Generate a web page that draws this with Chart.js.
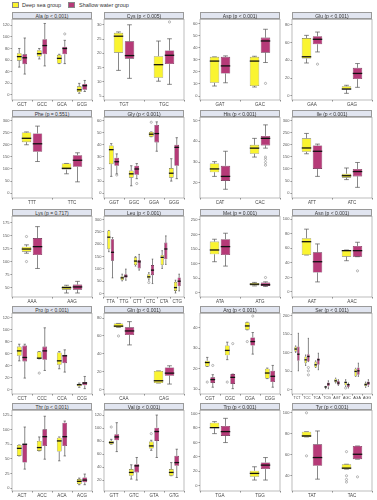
<!DOCTYPE html>
<html>
<head>
<meta charset="utf-8">
<script src="https://cdn.jsdelivr.net/npm/chart.js@4.4.1/dist/chart.umd.min.js"></script>
<style>
  body { margin: 0; background: #fff; width: 377px; height: 500px; position: relative; overflow: hidden; font-family: "Liberation Sans", Arial, sans-serif; }
  .strip { position: absolute; height: 7px; width: 80px; box-sizing: border-box; background: #e1e5f0; border: 0.6px solid #9a9a9a; font-size: 5px; line-height: 6px; text-align: center; color: #333; z-index: 2; white-space: nowrap; }
  .legend { position: absolute; top: 2px; font-size: 5.5px; line-height: 6px; color: #333; }
  .sw { position: absolute; top: 2px; width: 7px; height: 6px; box-sizing: border-box; border: 0.6px solid #888; }
  canvas { position: absolute; }
</style>
</head>
<body>
<div class="sw" style="left:12px;background:#faf430"></div>
<div class="legend" style="left:22px">Deep sea group</div>
<div class="sw" style="left:68px;background:#b63a78"></div>
<div class="legend" style="left:79px">Shallow water group</div>
<script>
// stats are [min, q1, median, q3, max]
const panelTitles = ["Ala (p < 0.001)", "Cys (p < 0.005)", "Asp (p < 0.001)", "Glu (p < 0.001)",
  "Phe (p = 0.551)", "Gly (p < 0.001)", "His (p < 0.001)", "Ile (p < 0.001)",
  "Lys (p = 0.717)", "Leu (p < 0.001)", "Met (p = 0.001)", "Asn (p < 0.001)",
  "Pro (p < 0.001)", "Gln (p < 0.001)", "Arg (p < 0.001)", "Ser (p < 0.001)",
  "Thr (p < 0.001)", "Val (p < 0.001)", "Trp (p < 0.001)", "Tyr (p < 0.001)"];

const alaCodons = ["GCT", "GCC", "GCA", "GCG"];
const alaDeep = [[48, 59, 66, 72, 80], [62, 66, 71, 77, 80], [54, 54, 63, 69, 70], [3, 5, 9, 15, 20]];
const alaShallow = [[36, 53, 64, 70, 98], [50, 70, 85, 96, 123], [54, 70, 80, 83, 94], [6, 9, 16, 19, 25]];
const alaDeepOut = [[], [], [], []];
const alaShallowOut = [[], [], [105], []];
const alaTicks = [0, 20, 40, 60, 80, 100, 120];
const alaRange = [-8.6, 130];

const cysCodons = ["TGT", "TGC"];
const cysDeep = [[14, 20.2, 26, 27.2, 27.5], [10.2, 11.4, 16, 19, 24.3]];
const cysShallow = [[11.2, 18.1, 19.2, 24.2, 30], [9.1, 16.2, 19.3, 21, 25.1]];
const cysDeepOut = [[], []];
const cysShallowOut = [[], [31]];
const cysTicks = [5, 10, 15, 20, 25, 30];
const cysRange = [3.6, 31.9];

const aspCodons = ["GAT", "GAC"];
const aspDeep = [[8.3, 11, 29, 32.5, 32.5], [7.5, 8.3, 29, 32.5, 33]];
const aspShallow = [[11, 18.7, 25, 32.5, 33.3], [27.8, 36, 45.7, 48.5, 55.4]];
const aspDeepOut = [[], []];
const aspShallowOut = [[], [10.5]];
const aspTicks = [0, 10, 20, 30, 40, 50, 60];
const aspRange = [-3.3, 63.6];

const gluCodons = ["GAA", "GAG"];
const gluDeep = [[37, 42, 44, 65, 68], [3, 7.4, 7.8, 11, 12]];
const gluShallow = [[49.4, 58, 63.6, 67, 71.7], [9.7, 19, 25.3, 31.6, 36.4]];
const gluDeepOut = [[], []];
const gluShallowOut = [[35.7], []];
const gluTicks = [0, 20, 40, 60, 80];
const gluRange = [-4.5, 85.9];

const pheCodons = ["TTT", "TTC"];
const pheDeep = [[200, 210.7, 226.7, 250.7, 253], [80, 97.3, 102.7, 122.7, 122.7]];
const pheShallow = [[130.7, 170.7, 204, 246.7, 277], [46.7, 109, 136, 157, 166.7]];
const pheDeepOut = [[], []];
const pheShallowOut = [[], []];
const pheTicks = [0, 50, 100, 150, 200, 250, 300];
const pheRange = [-20, 313];

const glyCodons = ["GGT", "GGC", "GGA", "GGG"];
const glyDeep = [[13.9, 24, 36, 39.5, 41], [6.1, 12.8, 16, 18.7, 22.7], [46.7, 46.7, 48.8, 50.7, 50.7], [10, 12.8, 16.5, 20.8, 28.5]];
const glyShallow = [[16, 22.7, 26, 29.3, 32.5], [12, 15.2, 20, 22.7, 24.5], [34.7, 42, 49.3, 56.5, 59], [12, 22.7, 37.9, 40, 45.9]];
const glyDeepOut = [[], [], [58.7], []];
const glyShallowOut = [[15], [8], [], []];
const glyTicks = [0, 10, 20, 30, 40, 50, 60];
const glyRange = [-4, 62.7];

const hisCodons = ["CAT", "CAC"];
const hisDeep = [[23.1, 25.1, 26.7, 29.3, 30.2], [32.4, 34, 36.7, 38.3, 41.4]];
const hisShallow = [[16.9, 20.9, 23.1, 28.2, 35.2], [36.7, 38, 41.4, 42.6, 47.9]];
const hisDeepOut = [[], []];
const hisShallowOut = [[], [32.4, 31.3, 29.8, 28.5]];
const hisTicks = [20, 30, 40, 50];
const hisRange = [12.7, 51.5];

const ileCodons = ["ATT", "ATC"];
const ileDeep = [[162.7, 170.7, 186.7, 226.7, 246.7], [56, 64, 72, 80, 104]];
const ileShallow = [[69.3, 100, 173, 197, 202.7], [24, 69.3, 89.3, 100, 126.7]];
const ileDeepOut = [[], []];
const ileShallowOut = [[], []];
const ileTicks = [0, 50, 100, 150, 200, 250, 300];
const ileRange = [-20, 313];

const lysCodons = ["AAA", "AAG"];
const lysDeep = [[116, 119, 124, 128.6, 132], [39.7, 46, 50, 52.6, 54.5]];
const lysShallow = [[86.7, 112.5, 128.6, 145, 167], [39.7, 46, 51.3, 55.8, 62]];
const lysDeepOut = [[148, 100], []];
const lysShallowOut = [[], []];
const lysTicks = [50, 75, 100, 125, 150, 175];
const lysRange = [32, 186.6];

const leuCodons = ["TTA", "TTG", "CTT", "CTC", "CTA", "CTG"];
const leuDeep = [[170, 180, 228.8, 256, 256], [51.8, 54.5, 64, 70.8, 79], [111.7, 115.8, 132, 147, 150], [55, 61.3, 68, 79, 85], [102, 115.8, 147, 156.6, 174], [2.7, 11, 24.5, 47.7, 54.5]];
const leuShallow = [[64, 133.5, 167.5, 220.6, 227.5], [54.5, 64, 70.8, 79, 99.4], [95.3, 102, 129, 136, 159], [40.9, 75, 95.3, 115.8, 140], [118.5, 139, 181, 207, 234], [11, 30, 50.4, 65.4, 79]];
const leuDeepOut = [[], [], [], [45], [], []];
const leuShallowOut = [[], [], [], [], [], []];
const leuTicks = [0, 50, 100, 150, 200, 250, 300];
const leuRange = [-13.6, 313];

const metCodons = ["ATA", "ATG"];
const metDeep = [[106.7, 132, 146.8, 175.5, 183.5], [24, 25.2, 29.8, 34.4, 36]];
const metShallow = [[91.8, 129.6, 158.3, 183.5, 204], [22, 24, 28, 35.6, 38]];
const metDeepOut = [[], []];
const metShallowOut = [[], [52.8]];
const metTicks = [0, 50, 100, 150, 200, 250];
const metRange = [-13.8, 261.5];

const asnCodons = ["AAT", "AAC"];
const asnDeep = [[50.7, 50.7, 69, 73.7, 86.2], [42.9, 48.4, 56.7, 57.6, 57.6]];
const asnShallow = [[13.8, 26.7, 41.5, 54.4, 65.9], [48.4, 48.4, 56.7, 63.1, 68.2]];
const asnDeepOut = [[], []];
const asnShallowOut = [[], [29]];
const asnTicks = [0, 20, 40, 60, 80, 100];
const asnRange = [-6.9, 103.7];

const proCodons = ["CCT", "CCC", "CCA", "CCG"];
const proDeep = [[48, 56.4, 64.6, 71.8, 75.7], [51.4, 51.4, 52.5, 63.5, 63.5], [34.8, 41.4, 48, 61.9, 63.5], [4, 5.5, 8.3, 10, 11]];
const proShallow = [[19.3, 47, 53.6, 73.5, 75.7], [32, 49.7, 64.6, 71.8, 103], [29.3, 44.2, 56.4, 58, 66.3], [1.7, 7.2, 11, 12.7, 22]];
const proDeepOut = [[], [27.6], [], []];
const proShallowOut = [[], [], [], []];
const proTicks = [0, 20, 40, 60, 80, 100, 120];
const proRange = [-7.2, 127];

const glnCodons = ["CAA", "CAG"];
const glnDeep = [[69.6, 69.6, 71, 74, 74], [7.4, 7.4, 10, 21, 21]];
const glnShallow = [[50, 61, 65.6, 69.6, 76], [6.3, 15.6, 18.5, 24.8, 26.7]];
const glnDeepOut = [[60], []];
const glnShallowOut = [[], []];
const glnTicks = [0, 20, 40, 60, 80];
const glnRange = [-4.8, 85.2];

const argCodons = ["CGT", "CGC", "CGA", "CGG"];
const argDeep = [[21.1, 21.1, 23, 23.9, 25.5], [24.4, 26.5, 28.9, 31.3, 32.9], [38.9, 38.9, 40.8, 42.6, 42.6], [15.2, 15.2, 17.9, 20, 20.3]];
const argShallow = [[11, 13.1, 14.7, 15.8, 17.1], [10.3, 12.6, 15.8, 17.4, 17.4], [27.1, 31.3, 33.2, 35.2, 37.6], [11, 13.5, 16.3, 19, 21.6]];
const argDeepOut = [[13.5], [13.5], [33.2], []];
const argShallowOut = [[21.6], [32.2], [45.6], []];
const argTicks = [10, 20, 30, 40];
const argRange = [7.7, 46.9];

const serCodons = ["TCT", "TCC", "TCA", "TCG", "AGT", "AGC", "AGA", "AGG"];
const serDeep = [[101, 103, 110, 116.7, 118.5], [65.5, 71.8, 80.8, 89.8, 94], [60, 60, 67.3, 76, 78], [2.7, 6.3, 7.2, 9, 9], [18, 19.7, 24, 29.6, 31.4], [9, 11.7, 19.7, 22.4, 27], [36, 36, 49.4, 56.6, 58], [6.3, 9, 13.5, 18, 20.6]];
const serShallow = [[51, 78, 96, 116.7, 152.6], [76, 76, 89.8, 96, 139], [54, 67.3, 81, 85, 98.7], [2.7, 9, 15.3, 19.7, 24], [11.7, 13.5, 18, 24, 27], [4.5, 7.2, 13.5, 15.3, 18], [36, 40.4, 51, 60, 71.8], [9, 11.7, 18, 22.4, 27]];
const serDeepOut = [[], [], [], [], [], [4.5], [], []];
const serShallowOut = [[], [60, 51, 40], [], [], [], [], [], []];
const serTicks = [0, 50, 100, 150, 200];
const serRange = [-11.7, 206.5];

const thrCodons = ["ACT", "ACC", "ACA", "ACG"];
const thrDeep = [[55, 55, 68, 73.8, 73.8], [63.6, 63.6, 69.3, 80.7, 87.5], [46.6, 62.5, 80.7, 86.3, 87.5], [5.7, 6.8, 11.4, 15.3, 17]];
const thrShallow = [[32.4, 43.7, 75, 76, 104.5], [49.4, 72, 88, 100.5, 123], [55, 72, 88, 112, 114.7], [5.7, 9.7, 13.6, 18, 23.9]];
const thrDeepOut = [[], [], [], []];
const thrShallowOut = [[], [], [], []];
const thrTicks = [0, 25, 50, 75, 100, 125];
const thrRange = [-5.1, 133];

const valCodons = ["GTT", "GTC", "GTA", "GTG"];
const valDeep = [[75.4, 75.4, 78, 80.5, 83], [21.5, 26.7, 31.8, 37, 43.6], [66, 68.7, 72.8, 79.5, 81.5], [26.7, 26.7, 31.8, 37, 47]];
const valShallow = [[64, 81.5, 86.7, 90.8, 108.7], [20, 31.8, 42, 44.6, 54.9], [54.9, 80.5, 95, 101, 120.5], [24, 42, 47, 57.4, 67.7]];
const valDeepOut = [[102], [], [91.8], []];
const valShallowOut = [[], [], [], []];
const valTicks = [20, 40, 60, 80, 100, 120];
const valRange = [3.1, 127.7];

const trpCodons = ["TGA", "TGG"];
const trpDeep = [[72.2, 79.6, 80.5, 87.4, 88.8], [7.8, 12.4, 17, 20.7, 26.2]];
const trpShallow = [[59.8, 69, 75, 82.8, 93.4], [7.8, 23, 28.5, 32.2, 39]];
const trpDeepOut = [[], []];
const trpShallowOut = [[], []];
const trpTicks = [0, 20, 40, 60, 80, 100];
const trpRange = [-7.4, 104.4];

const tyrCodons = ["TAT", "TAC"];
const tyrDeep = [[77, 77, 78, 82, 82], [46.3, 46.3, 47.3, 51, 51]];
const tyrShallow = [[36.8, 49.5, 57.4, 70, 82.7], [55.8, 55.8, 60.5, 68.4, 68.4]];
const tyrDeepOut = [[100, 59], [63, 40, 36.5, 34]];
const tyrShallowOut = [[], [39]];
const tyrTicks = [40, 60, 80, 100];
const tyrRange = [25.5, 102.3];

const panels = [
  [alaCodons, alaDeep, alaShallow, alaDeepOut, alaShallowOut, alaTicks, alaRange],
  [cysCodons, cysDeep, cysShallow, cysDeepOut, cysShallowOut, cysTicks, cysRange],
  [aspCodons, aspDeep, aspShallow, aspDeepOut, aspShallowOut, aspTicks, aspRange],
  [gluCodons, gluDeep, gluShallow, gluDeepOut, gluShallowOut, gluTicks, gluRange],
  [pheCodons, pheDeep, pheShallow, pheDeepOut, pheShallowOut, pheTicks, pheRange],
  [glyCodons, glyDeep, glyShallow, glyDeepOut, glyShallowOut, glyTicks, glyRange],
  [hisCodons, hisDeep, hisShallow, hisDeepOut, hisShallowOut, hisTicks, hisRange],
  [ileCodons, ileDeep, ileShallow, ileDeepOut, ileShallowOut, ileTicks, ileRange],
  [lysCodons, lysDeep, lysShallow, lysDeepOut, lysShallowOut, lysTicks, lysRange],
  [leuCodons, leuDeep, leuShallow, leuDeepOut, leuShallowOut, leuTicks, leuRange],
  [metCodons, metDeep, metShallow, metDeepOut, metShallowOut, metTicks, metRange],
  [asnCodons, asnDeep, asnShallow, asnDeepOut, asnShallowOut, asnTicks, asnRange],
  [proCodons, proDeep, proShallow, proDeepOut, proShallowOut, proTicks, proRange],
  [glnCodons, glnDeep, glnShallow, glnDeepOut, glnShallowOut, glnTicks, glnRange],
  [argCodons, argDeep, argShallow, argDeepOut, argShallowOut, argTicks, argRange],
  [serCodons, serDeep, serShallow, serDeepOut, serShallowOut, serTicks, serRange],
  [thrCodons, thrDeep, thrShallow, thrDeepOut, thrShallowOut, thrTicks, thrRange],
  [valCodons, valDeep, valShallow, valDeepOut, valShallowOut, valTicks, valRange],
  [trpCodons, trpDeep, trpShallow, trpDeepOut, trpShallowOut, trpTicks, trpRange],
  [tyrCodons, tyrDeep, tyrShallow, tyrDeepOut, tyrShallowOut, tyrTicks, tyrRange]
];

const YELLOW = "#faf430";
const MAGENTA = "#b63a78";
const colX = [12, 104, 200, 292];
const rowY = [12, 110, 209, 306, 403];
const PW = 80, PH = 81, STRIP = 7;

// whiskers behind the boxes, medians and outliers on top
const boxPlot = {
  id: "boxPlot",
  beforeDatasetsDraw(chart) {
    const ctx = chart.ctx, y = chart.scales.y;
    ctx.save();
    ctx.strokeStyle = "#555";
    ctx.lineWidth = 0.7;
    chart.data.datasets.forEach((ds, i) => {
      chart.getDatasetMeta(i).data.forEach((bar, j) => {
        const s = ds.stats[j];
        const cap = bar.width * 0.25;
        ctx.beginPath();
        ctx.moveTo(bar.x, y.getPixelForValue(s[3]));
        ctx.lineTo(bar.x, y.getPixelForValue(s[4]));
        ctx.moveTo(bar.x, y.getPixelForValue(s[1]));
        ctx.lineTo(bar.x, y.getPixelForValue(s[0]));
        ctx.moveTo(bar.x - cap, y.getPixelForValue(s[4]));
        ctx.lineTo(bar.x + cap, y.getPixelForValue(s[4]));
        ctx.moveTo(bar.x - cap, y.getPixelForValue(s[0]));
        ctx.lineTo(bar.x + cap, y.getPixelForValue(s[0]));
        ctx.stroke();
      });
    });
    ctx.restore();
  },
  afterDatasetsDraw(chart) {
    const ctx = chart.ctx, y = chart.scales.y, a = chart.chartArea;
    ctx.save();
    chart.data.datasets.forEach((ds, i) => {
      chart.getDatasetMeta(i).data.forEach((bar, j) => {
        const s = ds.stats[j];
        const my = y.getPixelForValue(s[2]);
        ctx.strokeStyle = "#111";
        ctx.lineWidth = 1.3;
        ctx.beginPath();
        ctx.moveTo(bar.x - bar.width / 2, my);
        ctx.lineTo(bar.x + bar.width / 2, my);
        ctx.stroke();
        ctx.strokeStyle = "#777";
        ctx.lineWidth = 0.5;
        ds.outliers[j].forEach(v => {
          ctx.beginPath();
          ctx.arc(bar.x, y.getPixelForValue(v), 1.1, 0, Math.PI * 2);
          ctx.stroke();
        });
      });
    });
    ctx.strokeStyle = "#a0a0a0";
    ctx.lineWidth = 0.7;
    ctx.strokeRect(a.left, a.top, a.right - a.left, a.bottom - a.top);
    ctx.restore();
  }
};

panels.forEach((p, k) => {
  const [codons, deep, shallow, deepOut, shallowOut, ticks, range] = p;
  const col = k % 4, row = Math.floor(k / 4);
  const left = colX[col], top = rowY[row];

  const strip = document.createElement("div");
  strip.className = "strip";
  strip.style.left = left + "px";
  strip.style.top = top + "px";
  strip.textContent = panelTitles[k];
  document.body.appendChild(strip);

  const padL = 12, padB = 8, padT = 3, padR = 3;
  const cv = document.createElement("canvas");
  const w = PW + padL + padR, h = PH + padT + padB;
  cv.width = w; cv.height = h;
  cv.style.width = w + "px"; cv.style.height = h + "px";
  cv.style.left = (left - padL) + "px";
  cv.style.top = (top + STRIP - padT) + "px";
  document.body.appendChild(cv);

  const xFont = codons.length > 6 ? 3.6 : 4.5;

  new Chart(cv, {
    type: "bar",
    data: {
      labels: codons,
      datasets: [
        { label: "Deep sea group", data: deep.map(s => [s[1], s[3]]), stats: deep, outliers: deepOut,
          backgroundColor: YELLOW, borderColor: "#6a6a4a", borderWidth: 0.6, borderSkipped: false },
        { label: "Shallow water group", data: shallow.map(s => [s[1], s[3]]), stats: shallow, outliers: shallowOut,
          backgroundColor: MAGENTA, borderColor: "#5a2040", borderWidth: 0.6, borderSkipped: false }
      ]
    },
    options: {
      responsive: false,
      animation: false,
      devicePixelRatio: 1,
      layout: { padding: { left: 0, right: padR, top: padT, bottom: 0 } },
      datasets: { bar: { categoryPercentage: 0.55, barPercentage: 0.86 } },
      plugins: { legend: { display: false }, tooltip: { enabled: false } },
      scales: {
        x: {
          grid: { drawOnChartArea: false, tickLength: 1.5, color: "#888" },
          border: { display: false },
          ticks: { font: { size: xFont, family: "Liberation Sans" }, color: "#444", padding: 0.5, maxRotation: 0, autoSkip: false },
          afterFit(a) { a.height = padB; }
        },
        y: {
          min: range[0],
          max: range[1],
          afterBuildTicks(a) { a.ticks = ticks.map(v => ({ value: v })); },
          grid: { drawOnChartArea: false, tickLength: 1.5, color: "#888" },
          border: { display: false },
          ticks: { font: { size: 4, family: "Liberation Sans" }, color: "#555", padding: 1 },
          afterFit(a) { a.width = padL; }
        }
      }
    },
    plugins: [boxPlot]
  });
});
</script>
</body>
</html>
